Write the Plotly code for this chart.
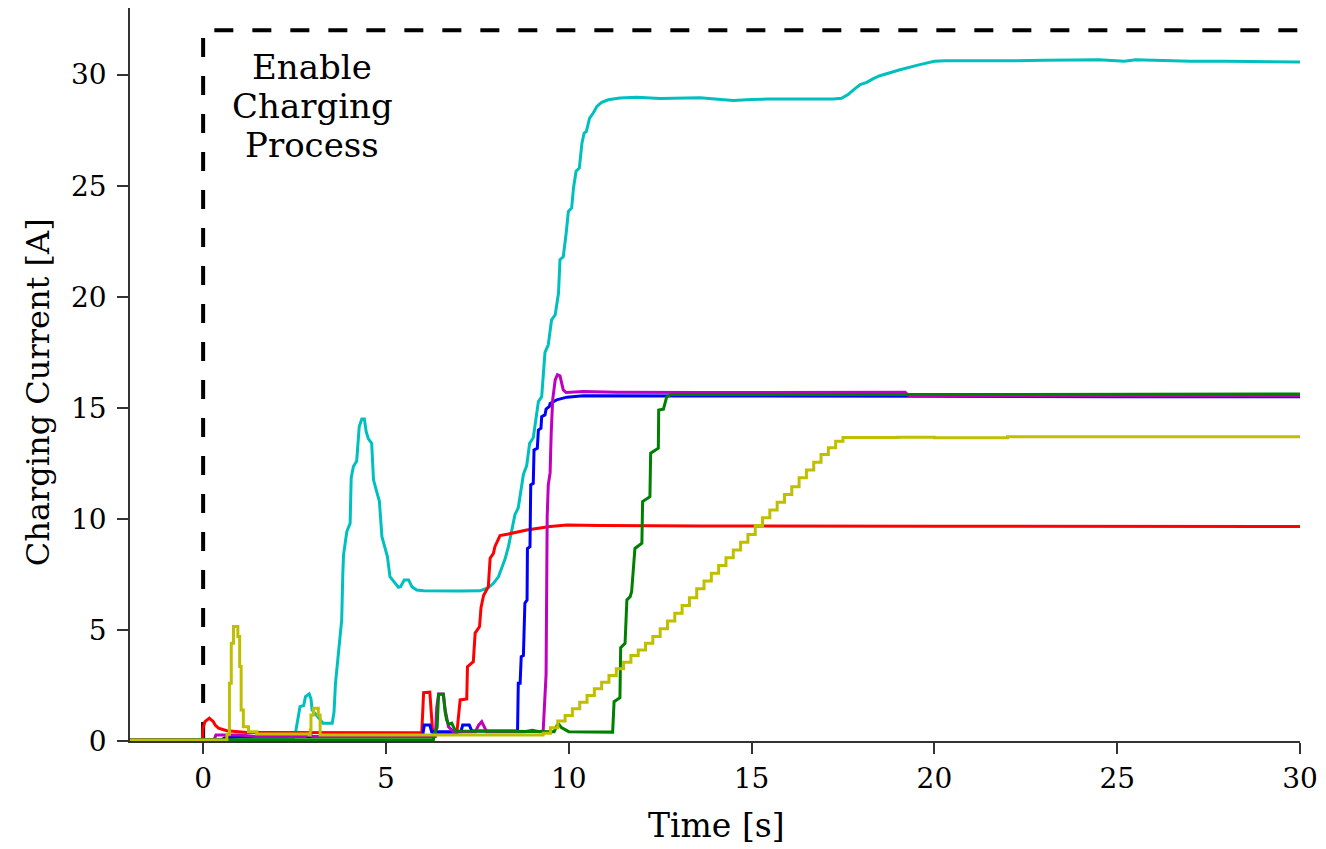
import plotly.graph_objects as go

# ---------------- data ----------------
cyan_t = [-2.0, 2.45, 2.52, 2.6, 2.65, 2.75, 2.8, 2.9, 2.95, 2.98, 3.1, 3.28, 3.53, 3.58, 3.62, 3.68,
          3.74, 3.79, 3.82, 3.84, 3.93, 4.02, 4.05, 4.11, 4.2, 4.27, 4.34, 4.41, 4.46, 4.52, 4.61,
          4.66, 4.75, 4.82, 4.89, 4.98, 5.04, 5.11, 5.25, 5.34, 5.4, 5.5, 5.62, 5.71, 5.84, 6.03,
          7.0, 7.57, 7.8, 7.94, 8.08, 8.17, 8.26, 8.35, 8.44, 8.53, 8.62, 8.67, 8.76, 8.85, 8.93,
          9.03, 9.08, 9.17, 9.26, 9.31, 9.35, 9.44, 9.53, 9.63, 9.72, 9.76, 9.85, 9.93, 9.99, 10.08,
          10.13, 10.2, 10.29, 10.36, 10.42, 10.48, 10.57, 10.67, 10.77, 10.9, 11.08, 11.4, 11.86,
          12.5, 13.0, 13.59, 14.0, 14.5, 15.0, 15.41, 16.32, 17.24, 17.46, 17.65, 17.78, 17.97,
          18.15, 18.33, 18.51, 18.7, 18.88, 19.06, 19.6, 20.0, 20.3, 21.0, 22.0, 23.0, 24.0, 24.5,
          25.2, 25.5, 26.0, 27.0, 28.0, 29.0, 30.0]
cyan_i = [0.05, 0.07, 0.3, 1.2, 1.55, 1.6, 2.0, 2.12, 1.9, 1.4, 1.15, 0.8, 0.8, 1.3, 2.6, 3.7,
          4.86, 5.45, 7.5, 8.38, 9.43, 9.8, 11.85, 12.36, 12.6, 14.16, 14.5, 14.5, 13.93, 13.6, 13.4,
          11.76, 11.2, 10.8, 9.2, 8.6, 8.3, 7.4, 7.1, 6.92, 6.95, 7.25, 7.25, 6.95, 6.8, 6.76,
          6.75, 6.76, 6.9, 7.1, 7.4, 7.78, 8.2, 8.75, 9.4, 10.2, 10.5, 11.1, 12.0, 12.4, 13.4,
          13.65, 14.3, 15.28, 15.5, 16.6, 17.5, 17.84, 18.96, 19.19, 20.17, 21.67, 21.8, 22.87, 23.84, 24.0,
          24.9, 25.65, 25.8, 26.9, 27.37, 27.44, 28.04, 28.27, 28.57, 28.75, 28.87, 28.95, 28.98,
          28.93, 28.95, 28.96, 28.9, 28.84, 28.88, 28.9, 28.9, 28.9, 28.94, 29.12, 29.3, 29.55,
          29.65, 29.82, 29.95, 30.05, 30.15, 30.22, 30.45, 30.6, 30.63, 30.62, 30.62, 30.65, 30.66, 30.67,
          30.6, 30.67, 30.65, 30.6, 30.6, 30.57, 30.57]

red_t = [-2.0, -0.02, 0.0, 0.05, 0.17, 0.28, 0.33, 0.42, 0.65, 0.9, 1.2, 5.98, 6.03, 6.2, 6.28,
         6.94, 6.98, 7.03, 7.21, 7.23, 7.39, 7.44, 7.56, 7.6, 7.67, 7.8, 7.85, 7.94, 7.98, 8.12,
         8.35, 8.85, 9.49, 9.95, 10.86, 13.6, 20.0, 25.0, 30.0]
red_i = [0.05, 0.05, 0.6, 0.87, 1.03, 0.87, 0.72, 0.58, 0.46, 0.42, 0.38, 0.37, 2.18, 2.2, 0.37,
         0.37, 1.2, 1.85, 1.89, 3.35, 3.57, 4.86, 5.15, 6.0, 6.55, 6.95, 8.23, 8.45, 8.75, 9.25,
         9.32, 9.5, 9.66, 9.72, 9.7, 9.68, 9.67, 9.67, 9.66]

blue_t = [-2.0, 0.5, 0.6, 1.0, 6.0, 6.05, 6.2, 6.25, 7.05, 7.1, 7.28, 7.35, 8.6, 8.62, 8.67, 8.7,
          8.76, 8.8, 8.86, 8.87, 8.94, 8.96, 9.03, 9.05, 9.14, 9.17, 9.24, 9.26, 9.35, 9.38, 9.47,
          9.49, 9.67, 9.95, 10.4, 13.6, 20.0, 25.0, 30.0]
blue_i = [0.05, 0.05, 0.15, 0.2, 0.2, 0.72, 0.72, 0.42, 0.42, 0.72, 0.72, 0.45, 0.45, 2.6, 2.6, 3.8,
          3.85, 6.2, 6.35, 8.67, 8.75, 11.53, 11.6, 13.1, 13.18, 14.0, 14.08, 14.6, 14.68, 14.94, 15.06,
          15.2, 15.36, 15.48, 15.54, 15.54, 15.52, 15.5, 15.5]

magenta_t = [-2.0, 0.3, 0.35, 1.0, 1.5, 2.8, 2.9, 3.0, 6.35, 6.39, 6.44, 6.57, 6.62, 6.71, 6.85,
             7.45, 7.53, 7.62, 7.7, 7.75, 8.8, 9.0, 9.2, 9.3, 9.38, 9.40, 9.41, 9.44, 9.49, 9.52,
             9.56, 9.63, 9.69, 9.76, 9.81, 9.85, 9.93, 10.4, 11.31, 13.6, 19.2, 19.3, 30.0]
magenta_i = [0.05, 0.05, 0.27, 0.27, 0.2, 0.2, 0.3, 0.2, 0.2, 1.5, 2.12, 2.12, 1.4, 0.64, 0.42,
             0.42, 0.7, 0.87, 0.6, 0.42, 0.42, 0.48, 0.42, 0.45, 3.0, 6.35, 10.1, 11.53, 12.07, 13.86,
             15.36, 16.26, 16.49, 16.44, 16.1, 15.81, 15.69, 15.73, 15.7, 15.69, 15.7, 15.55, 15.55]

green_t = [-2.0, 6.3, 6.33, 6.4, 6.44, 6.57, 6.62, 6.66, 6.72, 6.8, 6.9, 9.6, 9.68, 9.72, 9.8,
           10.0, 11.2, 11.24, 11.4, 11.42, 11.54, 11.59, 11.68, 11.72, 11.81, 11.95, 12.0, 12.02,
           12.08, 12.22, 12.24, 12.36, 12.45, 12.46, 12.59, 12.68, 12.81, 20.0, 30.0]
green_i = [0.05, 0.07, 0.35, 0.6, 2.1, 2.1, 1.3, 0.95, 0.75, 0.8, 0.45, 0.42, 0.7, 0.77, 0.6,
           0.42, 0.4, 1.77, 1.95, 4.2, 4.4, 6.35, 6.5, 6.73, 8.67, 8.83, 8.9, 10.78,
           10.85, 11.0, 12.96, 13.1, 13.18, 14.9, 14.94, 15.5, 15.6, 15.6, 15.62]

yellow_t = [-2.0, 0.62, 0.65, 0.72, 0.77, 0.83, 0.9, 0.95, 1.0, 1.04, 1.1, 1.24, 1.47, 2.9, 2.93,
            2.95, 3.02, 3.11, 3.15, 3.2, 9.22,
            9.3, 9.5, 9.7, 9.9, 10.1, 10.3, 10.5, 10.7, 10.9, 11.1, 11.3, 11.5, 11.7, 11.9, 12.1,
            12.3, 12.5, 12.7, 12.9, 13.1, 13.3, 13.5, 13.7, 13.9, 14.1, 14.3, 14.5, 14.7, 14.9,
            15.1, 15.3, 15.5, 15.7, 15.9, 16.1, 16.3, 16.5, 16.7, 16.9, 17.1, 17.3, 17.5,
            18.0, 19.0, 20.0, 22.0, 25.0, 28.0, 30.0]
yellow_i = [0.05, 0.05, 0.3, 2.6, 4.4, 5.15, 5.15, 4.7, 3.35, 1.4, 0.64, 0.42, 0.32, 0.27, 0.5,
            1.17, 1.47, 1.47, 1.17, 0.27, 0.27,
            0.35, 0.6, 0.9, 1.15, 1.45, 1.75, 2.05, 2.35, 2.65, 2.95, 3.25, 3.55, 3.85, 4.1, 4.4,
            4.7, 5.05, 5.4, 5.75, 6.1, 6.45, 6.85, 7.2, 7.55, 7.9, 8.25, 8.6, 8.95, 9.3,
            9.7, 10.05, 10.4, 10.75, 11.1, 11.45, 11.85, 12.2, 12.55, 12.9, 13.2, 13.5, 13.66,
            13.66, 13.67, 13.65, 13.7, 13.7, 13.7, 13.72]

enable_t = [0.0, 0.0, 30.0]
enable_i = [0.0, 32.0, 32.0]

annot_lines = ["Enable", "Charging", "Process"]
annot_y = [30.34, 28.6, 26.85]
annot_x = 2.98

x_ticks = [0, 5, 10, 15, 20, 25, 30]
y_ticks = [0, 5, 10, 15, 20, 25, 30]

# ---------------- figure ----------------
FONT = "DejaVu Serif"
fig = go.Figure()

fig.add_trace(go.Scatter(x=enable_t, y=enable_i, mode="lines",
                         line=dict(color="black", width=4, dash="19px,19px")))

series = [
    (cyan_t, cyan_i, "rgb(0,191,191)", "linear"),
    (red_t, red_i, "rgb(255,0,0)", "linear"),
    (blue_t, blue_i, "rgb(0,0,255)", "linear"),
    (magenta_t, magenta_i, "rgb(191,0,191)", "linear"),
    (green_t, green_i, "rgb(0,128,0)", "linear"),
    (yellow_t, yellow_i, "rgb(191,191,0)", "hv"),
]
for t, i, c, shp in series:
    fig.add_trace(go.Scatter(x=t, y=i, mode="lines",
                             line=dict(color=c, width=3, shape=shp)))

for txt, yy in zip(annot_lines, annot_y):
    fig.add_annotation(x=annot_x, y=yy, xref="x", yref="y", text=txt, showarrow=False,
                       font=dict(family=FONT, size=34, color="black"),
                       xanchor="center", yanchor="middle")

fig.add_annotation(x=0.5009, y=-0.1146, xref="paper", yref="paper", text="Time [s]",
                   showarrow=False, font=dict(family=FONT, size=33, color="black"),
                   xanchor="center", yanchor="middle")
fig.add_annotation(x=-0.0786, y=0.476, xref="paper", yref="paper", text="Charging Current [A]",
                   showarrow=False, textangle=-90,
                   font=dict(family=FONT, size=32, color="black"),
                   xanchor="center", yanchor="middle")

axis_common = dict(showgrid=False, zeroline=False, showline=True, linecolor="#333333",
                   linewidth=1.5, ticks="outside", ticklen=11, tickwidth=1.5,
                   tickcolor="#333333", tickfont=dict(family=FONT, size=28, color="black"))

fig.update_xaxes(range=[-2, 30], tickvals=x_ticks, ticktext=[str(v) for v in x_ticks],
                 ticklabelstandoff=1, **axis_common)
fig.update_yaxes(range=[0, 33], tickvals=y_ticks, ticktext=[str(v) for v in y_ticks],
                 ticklabelstandoff=5, **axis_common)

# the page body adds an 8px offset, so the figure is sized to fit the window
fig.update_layout(width=1318, height=841, showlegend=False,
                  margin=dict(l=122, r=26, t=0, b=108),
                  paper_bgcolor="white", plot_bgcolor="white",
                  font=dict(family=FONT))

fig.write_html("out.html")
